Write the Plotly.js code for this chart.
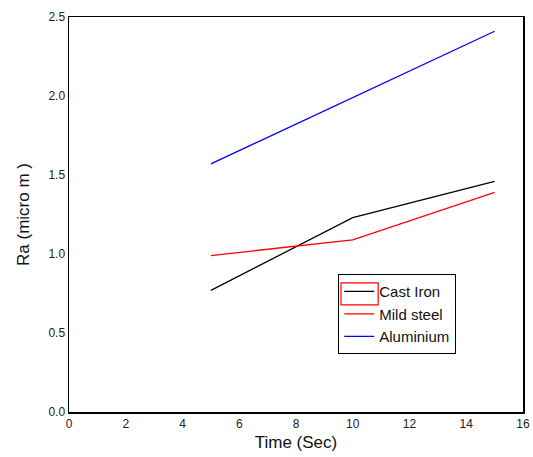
<!DOCTYPE html>
<html>
<head>
<meta charset="utf-8">
<script src="https://cdn.plot.ly/plotly-3.0.1.min.js"></script>
<style>html,body{margin:0;padding:0;background:#fff;}#chart{width:533px;height:457px;}</style>
</head>
<body>
<div id="chart"></div>
<script>
const time = [5, 10, 15];
const castIron = [0.77, 1.23, 1.46];
const mildSteel = [0.99, 1.09, 1.39];
const aluminium = [1.57, 1.99, 2.41];
const xTicks = [0, 2, 4, 6, 8, 10, 12, 14, 16];
const yTicks = [0.0, 0.5, 1.0, 1.5, 2.0, 2.5];

const traces = [
  {x: time, y: castIron, name: 'Cast Iron', mode: 'lines', line: {color: '#000000', width: 1.3}},
  {x: time, y: mildSteel, name: 'Mild steel', mode: 'lines', line: {color: '#ff0000', width: 1.3}},
  {x: time, y: aluminium, name: 'Aluminium', mode: 'lines', line: {color: '#0000ff', width: 1.3}}
];

const layout = {
  width: 533, height: 457,
  margin: {l: 69, r: 10, t: 17, b: 45},
  paper_bgcolor: '#fff', plot_bgcolor: '#fff',
  font: {family: 'Liberation Sans, Arial, sans-serif', color: '#222'},
  showlegend: true,
  legend: {
    x: 0.593, y: 0.349, xanchor: 'left', yanchor: 'top',
    bgcolor: 'rgba(0,0,0,0)', bordercolor: '#000', borderwidth: 1,
    font: {size: 15, color: '#111'},
    tracegroupgap: 0, itemwidth: 30
  },
  xaxis: {
    range: [0, 16], tickvals: xTicks, ticktext: xTicks.map(String),
    showgrid: false, zeroline: false, showline: true, mirror: true,
    linecolor: '#000', linewidth: 1.5, ticks: '', ticklabelstandoff: 0,
    tickfont: {size: 12, color: '#222'},
    title: {text: 'Time (Sec)', font: {size: 17, color: '#111'}, standoff: 6}
  },
  yaxis: {
    range: [0, 2.5], tickvals: yTicks, ticktext: yTicks.map(v => v.toFixed(1)),
    showgrid: false, zeroline: false, showline: true, mirror: true,
    linecolor: '#000', linewidth: 1.5, ticks: '', ticklabelstandoff: 0,
    tickfont: {size: 12, color: '#222'},
    title: {text: 'Ra (micro m )', font: {size: 17, color: '#111'}, standoff: 14}
  },
  shapes: [
    {type: 'rect', xref: 'paper', yref: 'paper', x0: 0.599, x1: 0.681, y0: 0.271, y1: 0.327,
     line: {color: '#ff0000', width: 1.2}, fillcolor: 'rgba(0,0,0,0)', layer: 'above'}
  ]
};

Plotly.newPlot('chart', traces, layout, {displayModeBar: false, staticPlot: true});
</script>
</body>
</html>
